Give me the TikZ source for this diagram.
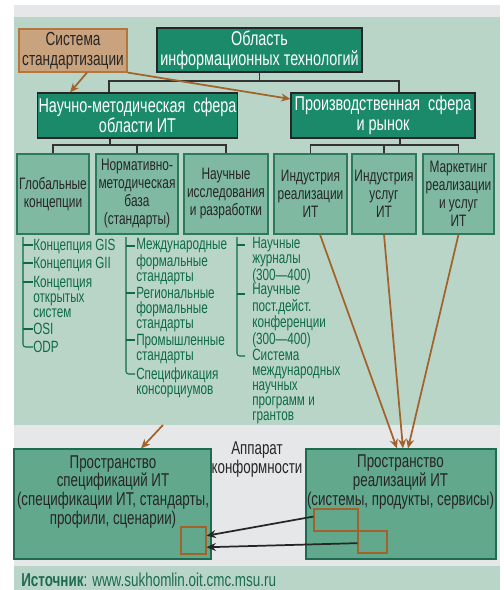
\documentclass[tikz,border=0pt]{standalone}
\usepackage{fontspec}
\setmainfont{Liberation Sans}[FakeStretch=0.72]
\usetikzlibrary{arrows.meta,calc}
\definecolor{panelG}{HTML}{B8D5C8}
\definecolor{grayband}{HTML}{E6E7E8}
\definecolor{darkG}{HTML}{1B8A6B}
\definecolor{midG}{HTML}{7FB9A1}
\definecolor{midB}{HTML}{2B7A5C}
\definecolor{bigG}{HTML}{62A88C}
\definecolor{bigB}{HTML}{1D6B50}
\definecolor{tanF}{HTML}{C9A27E}
\definecolor{tanB}{HTML}{B5763D}
\definecolor{brownL}{HTML}{A3622A}
\definecolor{textG}{HTML}{0E6B45}
\definecolor{treeL}{HTML}{333333}
\tikzset{
  anybox/.style={rectangle, inner sep=1pt, align=center, line width=0.8pt},
  darkbox/.style={anybox, fill=darkG, draw=black!85, text=white,
    font=\fontsize{15}{15}\selectfont},
  sysbox/.style={anybox, fill=tanF, draw=tanB, text=black!85,
    font=\fontsize{14.2}{15}\selectfont},
  smallbox/.style={anybox, fill=midG, draw=midB, text=black!85,
    font=\fontsize{12.4}{13.5}\selectfont, minimum height=60pt},
  bigbox/.style={anybox, fill=bigG, draw=bigB, minimum height=82.5pt},
  bigtext/.style={inner sep=0pt, align=center, text=black!85,
    font=\fontsize{13.9}{14}\selectfont, anchor=base},
  item/.style={inner sep=0pt, align=left, anchor=base west, text=textG,
    font=\fontsize{12.2}{11.25}\selectfont},
  tree/.style={draw=treeL, line width=0.8pt},
  listline/.style={draw=textG, line width=0.8pt},
  brownarr/.style={draw=brownL, line width=1.3pt,
    -{Stealth[length=7pt,width=6pt]}},
  blackarr/.style={draw=black!85, line width=1.3pt,
    -{Stealth[length=7pt,width=6pt]}},
  sq/.style={rectangle, draw=brownL, line width=0.8pt, inner sep=0pt}
}
\begin{document}
\begin{tikzpicture}[x=0.75pt,y=-0.75pt]
\useasboundingbox (0,0) rectangle (504,590);
% backgrounds
\fill[white] (0,0) rectangle (504,590);
\fill[grayband] (14,5) rectangle (500,17);
\fill[panelG] (14,17) rectangle (500,425);
\fill[grayband] (14,425) rectangle (500,566);
\fill[panelG] (14,566) rectangle (500,590);

% top level
\node[sysbox, minimum width=81pt, minimum height=32.25pt] (sys) at (73,50.5) {Система\\стандартизации};
\node[darkbox, minimum width=153.75pt, minimum height=33pt] (obl) at (259.5,50) {Область\\информационных технологий};
\node[darkbox, minimum width=147.75pt, minimum height=33.75pt] (nm) at (137.5,115.5) {Научно-методическая\ \ сфера\\области ИТ};
\node[darkbox, minimum width=138pt, minimum height=33.75pt] (pr) at (383,115.5) {Производственная\ \ сфера\\и рынок};

% small boxes
\node[smallbox, minimum width=54pt] (b1) at (53,194) {Глобальные\\концепции};
\node[smallbox, minimum width=61.5pt] (b2) at (137,194) {Нормативно-\\методическая\\база\\(стандарты)};
\node[smallbox, minimum width=63pt] (b3) at (226,194) {Научные\\исследования\\и разработки};
\node[smallbox, minimum width=54.75pt] (b4) at (310.5,194) {Индустрия\\реализации\\ИТ};
\node[smallbox, minimum width=48pt] (b5) at (384,194) {Индустрия\\услуг\\ИТ};
\node[smallbox, minimum width=53.25pt] (b6) at (458.5,194) {Маркетинг\\реализации\\и услуг\\ИТ};

% tree connectors
\draw[tree] (obl.south) -- (obl.south |- 0,81);
\draw[tree] (109,0 |- nm.north) -- (109,81) -- (399,81) -- (399,0 |- pr.north);
\draw[tree] (110,0 |- nm.south) -- (110,145);
\draw[tree] (b1.north) -- (b1.north |- 0,145) -- (b3.north |- 0,145) -- (b3.north);
\draw[tree] (b2.north) -- (b2.north |- 0,145);
\draw[tree] (400,0 |- pr.south) -- (400,145);
\draw[tree] (b4.north) -- (b4.north |- 0,145) -- (b6.north |- 0,145) -- (b6.north);
\draw[tree] (b5.north) -- (b5.north |- 0,145);

% list 1 (anchor = baseline of last line)
\node[item] (g1) at (33,250) {Концепция GIS};
\node[item] (g2) at (33,268) {Концепция GII};
\node[item] (g3) at (33,317) {Концепция\\открытых\\систем};
\node[item] (g4) at (33,334) {OSI};
\node[item] (g5) at (33,352) {ODP};
\draw[listline] (23,245) -- (g1.west |- 0,245);
\draw[listline] (23,263) -- (g2.west |- 0,263);
\draw[listline] (23,282) -- (g3.west |- 0,282);
\draw[listline] (23,329) -- (g4.west |- 0,329);
\draw[listline, rounded corners=2pt] (23,237) |- (g5.west |- 0,347);

% list 2
\node[item] (m1) at (136,281) {Международные\\формальные\\стандарты};
\node[item] (m2) at (136,328) {Региональные\\формальные\\стандарты};
\node[item] (m3) at (136,360) {Промышленные\\стандарты};
\node[item] (m4) at (136,394) {Спецификация\\консорциумов};
\draw[listline] (126,246) -- ($(m1.west |- 0,246)+(-1,0)$);
\draw[listline] (126,293) -- ($(m2.west |- 0,293)+(-1,0)$);
\draw[listline] (126,340) -- ($(m3.west |- 0,340)+(-1,0)$);
\draw[listline, rounded corners=2pt] (126,237) |- ($(m4.west |- 0,374)+(-1,0)$);

% list 3
\node[item] (n1) at (252,280) {Научные\\журналы\\(300—400)};
\node[item] (n2) at (252,344) {Научные\\пост.дейст.\\конференции\\(300—400)};
\node[item] (n3) at (252,420) {Система\\международных\\научных\\программ и\\грантов};
\draw[listline] (237,245) -- ($(n1.west |- 0,245)+(-7,0)$);
\draw[listline] (237,294) -- ($(n2.west |- 0,294)+(-7,0)$);
\draw[listline, rounded corners=2pt] (237,237) |- ($(n3.west |- 0,356)+(-7,0)$);

% bottom boxes
\node[bigbox, minimum width=147.75pt] (lb) at (112.5,504) {};
\node[bigbox, minimum width=142.5pt] (rb) at (401,504) {};
\node[bigtext] (lbt) at (113,524) {Пространство\\спецификаций ИТ\\(спецификации ИТ, стандарты,\\профили, сценарии)};
\node[bigtext] (rbt) at (400.5,505) {Пространство\\реализаций ИТ\\(системы, продукты, сервисы)};
\node[bigtext, font=\fontsize{13.9}{11.25}\selectfont] (app) at (257,473) {Аппарат\\конформности};

% small squares
\node[sq, minimum width=18.75pt, minimum height=20.25pt] (sq0) at (193.5,540.5) {};
\node[sq, minimum width=33pt, minimum height=16.5pt] (sq1) at (336,520) {};
\node[sq, minimum width=21.75pt, minimum height=16.5pt] (sq2) at (372.5,542) {};

% brown arrows
\draw[brownarr] (87,0 |- sys.south) -- (70,0 |- nm.north);
\draw[brownarr] (sys.south east) -- (pr.west |- 0,99);
\draw[brownarr] (320,0 |- b4.south) -- (397,0 |- rb.north);
\draw[brownarr] (b5.south) -- (403,0 |- rb.north);
\draw[brownarr] (b6.south) -- (408,0 |- rb.north);
\coordinate (src) at (163,425);
\draw[brownarr] (src) -- (141,0 |- lb.north);

% black arrows
\draw[blackarr] ($(sq1.north west)!0.35!(sq1.south west)$) -- ($(sq0.north east)!0.33!(sq0.south east)$);
\draw[blackarr] ($(sq2.north west)!0.55!(sq2.south west)$) -- ($(sq0.north east)!0.74!(sq0.south east)$);

% footer
\node[anchor=base west, inner sep=0pt, text=bigB, font=\fontsize{14}{14}\selectfont] (foot) at (21,586)
  {\textbf{Источник}: www.sukhomlin.oit.cmc.msu.ru};
\end{tikzpicture}
\end{document}
